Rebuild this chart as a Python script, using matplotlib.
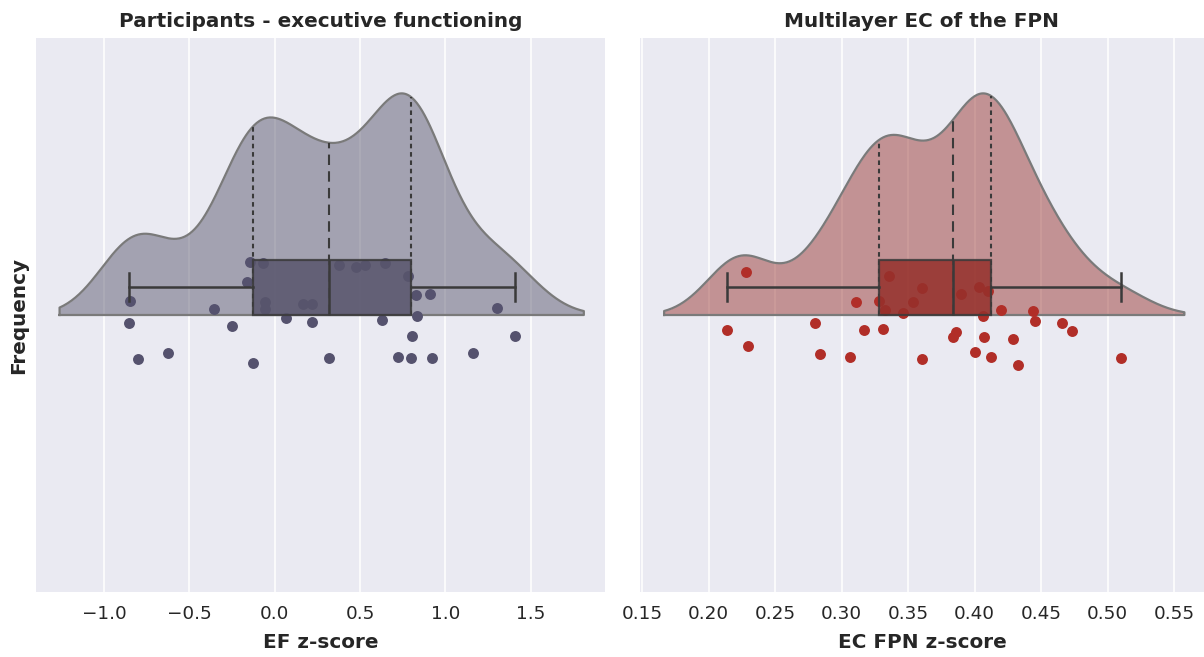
import numpy as np
import matplotlib.pyplot as plt

# scores, one per participant
ef_scores = [-0.147, -0.067, -0.162, 0.379, 0.474, 0.531, 0.646, 0.783, 0.827, 0.912,
             -0.848, -0.358, -0.057, -0.057, 0.168, 0.221, 1.301, -0.855, -0.248, 0.069,
             0.217, 0.627, 0.836, 0.804, 1.406, -0.802, -0.625, -0.124, 0.318, 0.720,
             0.798, 0.922, 1.162]
ec_scores = [0.2284, 0.3355, 0.3607, 0.3106, 0.3280, 0.3535, 0.3326, 0.3460, 0.3900, 0.4035,
             0.4097, 0.4062, 0.4199, 0.4442, 0.4453, 0.2142, 0.2798, 0.3165, 0.3315, 0.3859,
             0.3840, 0.4068, 0.4285, 0.4660, 0.4732, 0.2295, 0.2836, 0.3066, 0.3607, 0.4003,
             0.4121, 0.4325, 0.5101]
# strip jitter (fraction of box height)
ef_jitter = [0.95, 0.93, 0.59, 0.90, 0.87, 0.90, 0.94, 0.70, 0.36, 0.38, 0.26, 0.11, 0.23,
             0.10, 0.20, 0.20, 0.13, -0.14, -0.19, -0.06, -0.13, -0.09, -0.01, -0.38, -0.38,
             -0.80, -0.68, -0.86, -0.77, -0.75, -0.78, -0.77, -0.69]
ec_jitter = [0.77, 0.70, 0.48, 0.24, 0.26, 0.24, 0.09, 0.03, 0.38, 0.51, 0.43, -0.02, 0.09,
             0.07, -0.10, -0.27, -0.14, -0.27, -0.25, -0.31, -0.40, -0.40, -0.44, -0.14, -0.28,
             -0.56, -0.70, -0.75, -0.80, -0.67, -0.75, -0.90, -0.78]

titles = ["Participants - executive functioning", "Multilayer EC of the FPN"]
xlabels = ["EF z-score", "EC FPN z-score"]
ef_ticks = [-1.0, -0.5, 0.0, 0.5, 1.0, 1.5]
ec_ticks = [0.15, 0.20, 0.25, 0.30, 0.35, 0.40, 0.45, 0.50, 0.55]

plt.rcParams['font.family'] = ['DejaVu Sans']
BG = '#EAEAF2'
BW_FACTOR = 0.33
CUT = 2
VIOLIN_H = 0.8
BOX_H = 0.2


def kde(data, bw_factor=BW_FACTOR, cut=CUT):
    data = np.asarray(data)
    bw = bw_factor * data.std(ddof=1)
    xs = np.linspace(data.min() - cut * bw, data.max() + cut * bw, 400)
    dens = np.exp(-0.5 * ((xs[:, None] - data[None, :]) / bw) ** 2).sum(axis=1)
    return xs, dens / dens.max() * VIOLIN_H


def raincloud(ax, data, jitter, violin_col, point_col, box_col, xlim, ticks):
    ax.set_facecolor(BG)
    for s in ax.spines.values():
        s.set_visible(False)
    ax.set_axisbelow(True)
    ax.grid(axis='x', color='white', lw=1.1)
    ax.set_xticks(ticks)
    ax.set_yticks([])
    ax.tick_params(length=0, labelsize=13.2, pad=9.5, colors='#262626')

    xs, h = kde(data)
    ax.fill_between(xs, 0, h, color=violin_col, alpha=0.5, lw=0, zorder=1)
    ax.plot(np.r_[xs[0], xs, xs[-1], xs[0]], np.r_[0, h, 0, 0], color='#7a7a7a', lw=1.6, zorder=2)

    # quartile lines inside the half violin
    q1, med, q3 = np.percentile(data, [25, 50, 75])
    for q, ls in [(q1, (0, (2.2, 1.8))), (med, (0, (5, 3))), (q3, (0, (2.2, 1.8)))]:
        ax.plot([q, q], [0, np.interp(q, xs, h)], color='#3a3a3a', lw=1.5, ls=ls, zorder=3)

    ax.scatter(data, np.asarray(jitter) * BOX_H, s=62, color=point_col, lw=0, zorder=4)

    ax.boxplot(data, orientation='horizontal', positions=[BOX_H / 2], widths=BOX_H,
               patch_artist=True, showfliers=False, manage_ticks=False,
               boxprops=dict(facecolor=box_col, edgecolor='#3a3a3a', lw=1.6, alpha=0.85),
               medianprops=dict(color='#3a3a3a', lw=1.8),
               whiskerprops=dict(color='#3a3a3a', lw=1.8),
               capprops=dict(color='#3a3a3a', lw=1.8), zorder=5)

    ax.set_xlim(xlim)
    ax.set_ylim(-1.0, 1.0)


fig = plt.figure(figsize=(12.04, 6.57), dpi=100)
ax1 = fig.add_axes([36 / 1204, 65 / 657, 569 / 1204, 554 / 657])
ax2 = fig.add_axes([640 / 1204, 65 / 657, 564 / 1204, 554 / 657])

raincloud(ax1, ef_scores, ef_jitter, '#5e5c72', '#55526e', '#58556c', (-1.398, 1.935), ef_ticks)
raincloud(ax2, ec_scores, ec_jitter, '#9c3c38', '#b12e28', '#95302b', (0.1485, 0.5724), ec_ticks)

for ax, t, xl in zip([ax1, ax2], titles, xlabels):
    ax.set_title(t, fontsize=14.4, fontweight='bold', color='#262626', pad=8)
    ax.set_xlabel(xl, fontsize=14.4, fontweight='bold', color='#262626', labelpad=7)
ax1.set_ylabel("Frequency", fontsize=14.4, fontweight='bold', color='#262626', labelpad=6)

fig.savefig('out.png', dpi=100)
